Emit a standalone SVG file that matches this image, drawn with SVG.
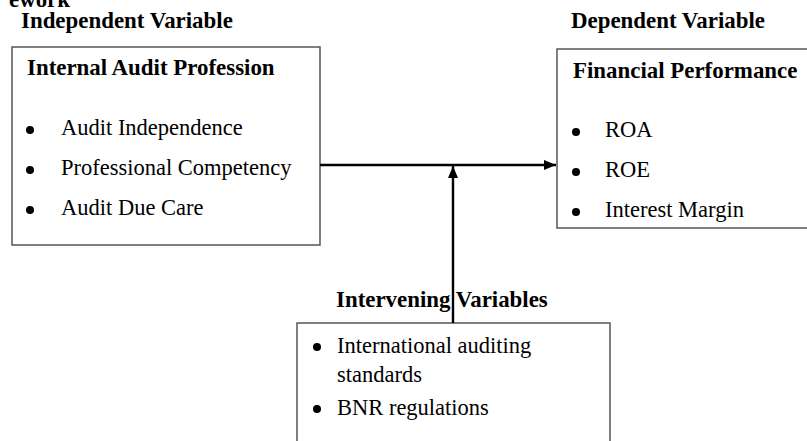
<svg xmlns="http://www.w3.org/2000/svg" width="807" height="441" viewBox="0 0 807 441">
<defs>
<style>
.box{fill:#fff;stroke:#555;stroke-width:1.5}
.h{font-family:"Liberation Serif","Times New Roman",serif;font-weight:bold;font-size:22.9px;fill:#000}
.t{font-family:"Liberation Serif","Times New Roman",serif;font-size:22.5px;fill:#000}
.b{fill:#000}
.c{stroke:#000;stroke-width:2.4;fill:none}
</style>
<marker id="ah" viewBox="0 0 12 10" refX="12" refY="5" markerWidth="12" markerHeight="10" markerUnits="userSpaceOnUse" orient="auto">
<path d="M0,0 L12,5 L0,10 Z" fill="#000"/>
</marker>
</defs>
<rect width="807" height="441" fill="#fff"/>
<text class="h" x="70" y="7" text-anchor="end">ework</text>
<text class="h" x="21" y="28">Independent Variable</text>
<text class="h" x="571" y="28">Dependent Variable</text>
<g id="iv">
<rect class="box" x="12" y="47" width="308" height="198"/>
<text class="h" x="27" y="75">Internal Audit Profession</text>
<circle class="b" cx="30" cy="130" r="4"/>
<text class="t" x="61" y="135">Audit Independence</text>
<circle class="b" cx="30" cy="170" r="4"/>
<text class="t" x="61" y="175">Professional Competency</text>
<circle class="b" cx="30" cy="210" r="4"/>
<text class="t" x="61" y="215">Audit Due Care</text>
</g>
<g id="dv">
<rect class="box" x="557" y="49" width="260" height="179"/>
<text class="h" x="573" y="78">Financial Performance</text>
<circle class="b" cx="576" cy="132" r="4"/>
<text class="t" x="605" y="137">ROA</text>
<circle class="b" cx="576" cy="172" r="4"/>
<text class="t" x="605" y="177">ROE</text>
<circle class="b" cx="576" cy="212" r="4"/>
<text class="t" x="605" y="217">Interest Margin</text>
</g>
<g id="mv">
<text class="h" x="336" y="307">Intervening Variables</text>
<rect class="box" x="297" y="323" width="313" height="130"/>
<circle class="b" cx="317" cy="347" r="4"/>
<text class="t" x="337" y="353">International auditing</text>
<text class="t" x="337" y="382">standards</text>
<circle class="b" cx="317" cy="409" r="4"/>
<text class="t" x="337" y="415">BNR regulations</text>
</g>
<g id="connectors">
<line class="c" x1="320" y1="165" x2="556" y2="165" marker-end="url(#ah)"/>
<line class="c" x1="453" y1="323" x2="453" y2="166" marker-end="url(#ah)"/>
</g>
</svg>
